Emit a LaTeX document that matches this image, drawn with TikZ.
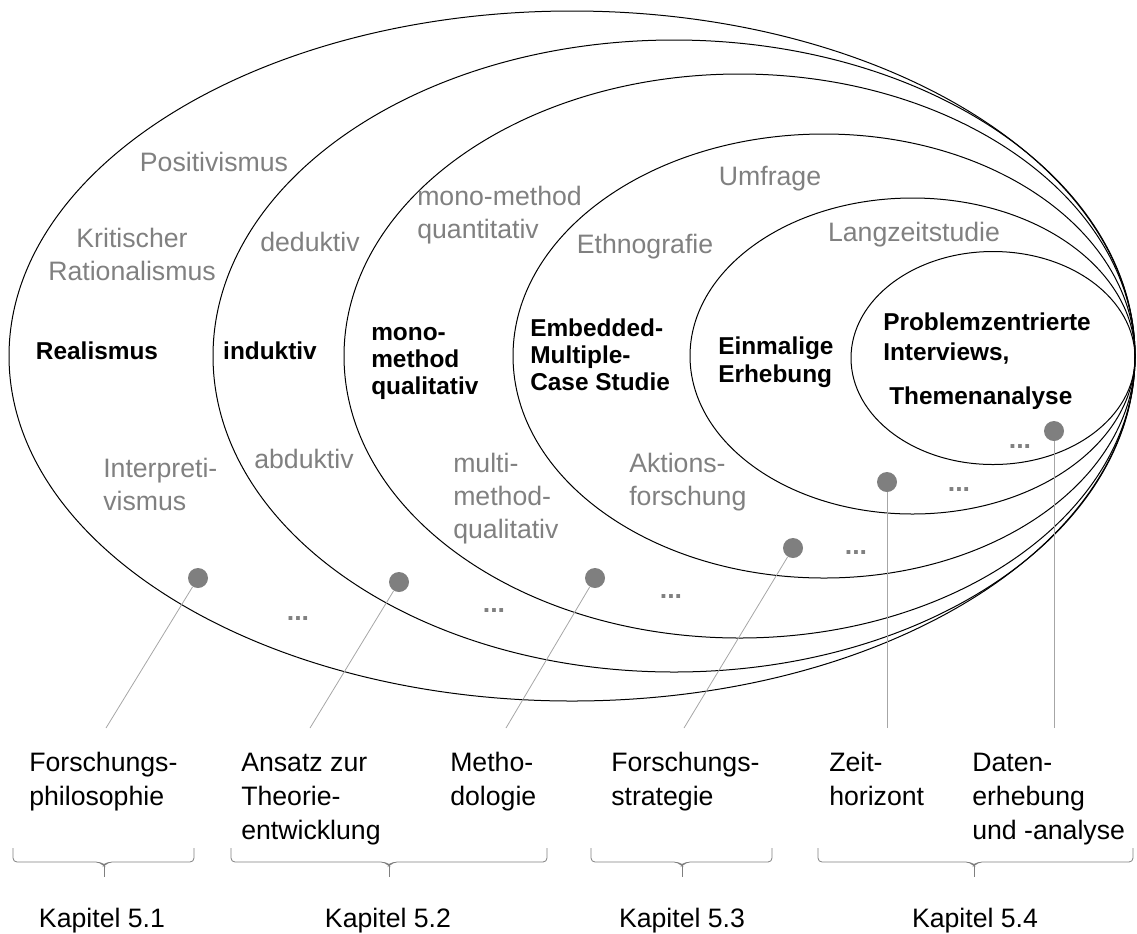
\documentclass[tikz,border=0pt]{standalone}
\usepackage{fontspec}
\setmainfont{Liberation Sans}
\definecolor{txtgray}{HTML}{808080}
\definecolor{dotgray}{HTML}{7F7F7F}
\definecolor{linegray}{HTML}{A6A6A6}
\definecolor{bracegray}{HTML}{7F7F7F}
\begin{document}
\begin{tikzpicture}[x=0.75pt,y=-0.75pt,
  ring/.style={draw=black, line width=0.75pt},
  opt/.style={text=txtgray, font=\fontsize{20}{24.5}\selectfont, inner sep=0pt, align=left},
  optc/.style={opt, align=center},
  main/.style={text=black, font=\bfseries\fontsize{18.3}{20.25}\selectfont, inner sep=0pt, align=left},
  area/.style={text=black, font=\fontsize{20}{25.5}\selectfont, inner sep=0pt, align=left},
  more/.style={text=txtgray, font=\bfseries\fontsize{20}{24}\selectfont, inner sep=0pt},
  dot/.style={circle, fill=dotgray, minimum size=15pt, inner sep=0pt},
  link/.style={draw=linegray, line width=0.6pt},
  brace/.style={draw=bracegray, line width=0.6pt, rounded corners=3pt}]
\useasboundingbox (0,0) rectangle (1137,933);

% nested layers, all touching at the right
\draw[ring] (572,356)   ellipse [x radius=563,   y radius=345];
\draw[ring] (674,356)   ellipse [x radius=461,   y radius=316];
\draw[ring] (739.5,356) ellipse [x radius=395.5, y radius=282];
\draw[ring] (824,356)   ellipse [x radius=311,   y radius=222];
\draw[ring] (912.5,356) ellipse [x radius=222.5, y radius=158];
\draw[ring] (993,358)   ellipse [x radius=142,   y radius=106.5];

% alternatives (grey); multi-line texts are placed by their last baseline
\node[opt, anchor=base] (pos) at (214,171) {Positivismus};
\node[optc, anchor=base] (krit) at (132,280) {Kritischer\\Rationalismus};
\node[opt, anchor=base west] (interp) at (103,510) {Interpreti-\\vismus};
\node[opt, anchor=base] (ded) at (310,251) {deduktiv};
\node[opt, anchor=base] (abd) at (304,468) {abduktiv};
\node[opt, anchor=base west] (monoq) at (417,238) {mono-method\\quantitativ};
\node[opt, anchor=base west] (multi) at (453,538) {multi-\\method-\\qualitativ};
\node[opt, anchor=base] (ethno) at (645,253) {Ethnografie};
\node[opt, anchor=base] (umf) at (770,185) {Umfrage};
\node[opt, anchor=base west] (akt) at (629,505) {Aktions-\\forschung};
\node[opt, anchor=base] (lang) at (914,241) {Langzeitstudie};

% chosen options (bold)
\node[main, anchor=base] (real) at (97,359) {Realismus};
\node[main, anchor=base] (ind) at (270,359) {induktiv};
\node[main, anchor=base west] (monoql) at (371,394) {mono-\\method\\qualitativ};
\node[main, anchor=base west] (emb) at (530,390) {Embedded-\\Multiple-\\Case Studie};
\node[main, anchor=base west, font=\bfseries\fontsize{18.3}{21}\selectfont] (einm) at (718,382) {Einmalige\\Erhebung};
\node[main, anchor=base west, font=\bfseries\fontsize{18.3}{22.5}\selectfont] (probl) at (883,404)
  {Problemzentrierte\\Interviews,\\[10.5pt]\hspace*{4.5pt}Themenanalyse};

% further options
\node[more] (m1) at (298,618) {...};
\node[more] (m2) at (494,610) {...};
\node[more] (m3) at (671,596) {...};
\node[more] (m4) at (856,552) {...};
\node[more] (m5) at (959,490) {...};
\node[more] (m6) at (1020,447) {...};

% layer markers and their leader lines
\node[dot] (d1) at (198,578) {};
\node[dot] (d2) at (399,582) {};
\node[dot] (d3) at (595,578) {};
\node[dot] (d4) at (793,548) {};
\node[dot] (d5) at (887,482) {};
\node[dot] (d6) at (1054,431) {};
\coordinate (e1) at (106,728);
\coordinate (e2) at (310,728);
\coordinate (e3) at (506,728);
\coordinate (e4) at (684,728);
\coordinate (e5) at (887,728);
\coordinate (e6) at (1054,728);
\foreach \i in {1,...,6} \draw[link] (d\i) -- (e\i);

% layer names
\node[area, anchor=base west] (l1) at (29,805) {Forschungs-\\philosophie};
\node[area, anchor=base west] (l2) at (241,839) {Ansatz zur\\Theorie-\\entwicklung};
\node[area, anchor=base west] (l3) at (450,805) {Metho-\\dologie};
\node[area, anchor=base west] (l4) at (611,805) {Forschungs-\\strategie};
\node[area, anchor=base west] (l5) at (829,805) {Zeit-\\horizont};
\node[area, anchor=base west] (l6) at (972,839) {Daten-\\erhebung\\und -analyse};

% chapter braces
\foreach \a/\c/\b in {13/104/194, 231/389/547, 591/682/772, 818/974/1133}{
  \draw[brace] (\a,848) -- (\a,862) -- ({\c-4},862) -- (\c,866) -- ({\c+4},862) -- (\b,862) -- (\b,848);
  \draw[draw=bracegray, line width=0.6pt] (\c,865) -- (\c,877);
}
\node[area, anchor=base] (k1) at (102,927) {Kapitel 5.1};
\node[area, anchor=base] (k2) at (388,927) {Kapitel 5.2};
\node[area, anchor=base] (k3) at (682,927) {Kapitel 5.3};
\node[area, anchor=base] (k4) at (975,927) {Kapitel 5.4};
\end{tikzpicture}
\end{document}
